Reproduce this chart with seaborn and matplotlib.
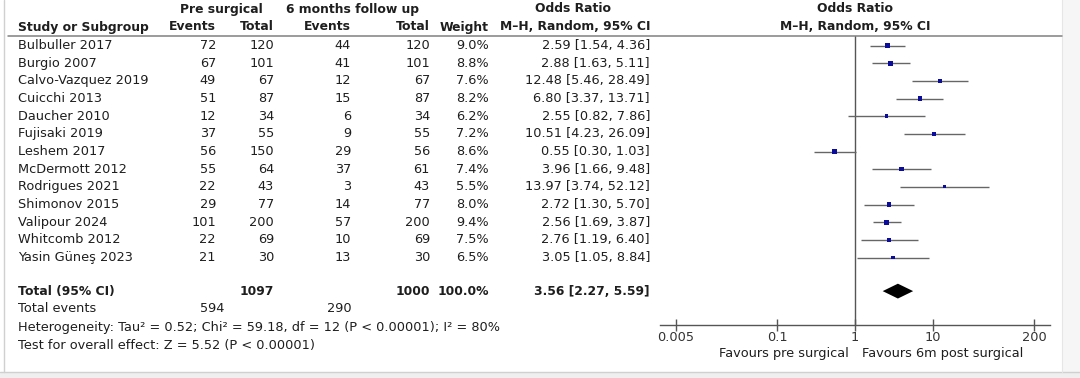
import numpy as np
import pandas as pd
import matplotlib
matplotlib.use("Agg")
import matplotlib.pyplot as plt
from matplotlib.lines import Line2D
from matplotlib.patches import Rectangle
import seaborn as sns

# ---------------- data ----------------
studies = ["Bulbuller 2017", "Burgio 2007", "Calvo-Vazquez 2019", "Cuicchi 2013",
           "Daucher 2010", "Fujisaki 2019", "Leshem 2017", "McDermott 2012",
           "Rodrigues 2021", "Shimonov 2015", "Valipour 2024", "Whitcomb 2012",
           "Yasin Güneş 2023"]
pre_events = [72, 67, 49, 51, 12, 37, 56, 55, 22, 29, 101, 22, 21]
pre_total = [120, 101, 67, 87, 34, 55, 150, 64, 43, 77, 200, 69, 30]
fu_events = [44, 41, 12, 15, 6, 9, 29, 37, 3, 14, 57, 10, 13]
fu_total = [120, 101, 67, 87, 34, 55, 56, 61, 43, 77, 200, 69, 30]
weights = [9.0, 8.8, 7.6, 8.2, 6.2, 7.2, 8.6, 7.4, 5.5, 8.0, 9.4, 7.5, 6.5]
odds = [2.59, 2.88, 12.48, 6.80, 2.55, 10.51, 0.55, 3.96, 13.97, 2.72, 2.56, 2.76, 3.05]
ci_low = [1.54, 1.63, 5.46, 3.37, 0.82, 4.23, 0.30, 1.66, 3.74, 1.30, 1.69, 1.19, 1.05]
ci_high = [4.36, 5.11, 28.49, 13.71, 7.86, 26.09, 1.03, 9.48, 52.12, 5.70, 3.87, 6.40, 8.84]

total_pre_n, total_fu_n = 1097, 1000
total_weight = 100.0
total_pre_events, total_fu_events = 594, 290
pooled_or, pooled_lo, pooled_hi = 3.56, 2.27, 5.59
tick_values = [0.005, 0.1, 1, 10, 200]
tick_labels = ["0.005", "0.1", "1", "10", "200"]

# ---------------- figure ----------------
sns.set_style("white")
plt.rcParams["font.family"] = ["DejaVu Sans"]
W, H = 1080, 378
fig = plt.figure(figsize=(W / 100, H / 100), dpi=100)
fig.patch.set_facecolor("white")

def fx(px):
    return px / W

def fy(py):
    return 1 - py / H

TXT = "#1e1e1e"
FS = 9.3
FSH = 8.9

def put(x, y, s, ha="left", bold=False, size=None, **kw):
    fig.text(fx(x), fy(y), s, ha=ha, va="center", fontsize=size or FS, color=TXT,
             fontweight="bold" if bold else "normal", **kw)

# frame decorations
fig.add_artist(Rectangle((fx(1062), 0), 1 - fx(1062), 1, transform=fig.transFigure,
                         facecolor="#f6f6f6", edgecolor="none", zorder=0))
fig.add_artist(Rectangle((0, 0), 1, fy(372), transform=fig.transFigure,
                         facecolor="#efefef", edgecolor="none", zorder=0))
fig.add_artist(Line2D([fx(0), fx(1080)], [fy(372), fy(372)], transform=fig.transFigure,
                      color="#d0d0d0", lw=1.0))
fig.add_artist(Line2D([fx(4), fx(4)], [fy(0), fy(372)], transform=fig.transFigure,
                      color="#d0d0d0", lw=1.0))
fig.add_artist(Line2D([fx(1062), fx(1062)], [fy(0), fy(372)], transform=fig.transFigure,
                      color="#e6e6e6", lw=0.8))

# header line
fig.add_artist(Line2D([fx(8), fx(1062)], [fy(36), fy(36)], transform=fig.transFigure,
                      color="#808080", lw=1.1))

# header text
put(221, 9, "Pre surgical", ha="center", bold=True, size=FSH)
put(353, 9, "6 months follow up", ha="center", bold=True, size=FSH)
put(573, 9, "Odds Ratio", ha="center", bold=True, size=FSH)
put(855, 9, "Odds Ratio", ha="center", bold=True, size=FSH)
put(18, 27, "Study or Subgroup", bold=True, size=FSH)
put(216, 27, "Events", ha="right", bold=True, size=FSH)
put(274, 27, "Total", ha="right", bold=True, size=FSH)
put(351, 27, "Events", ha="right", bold=True, size=FSH)
put(430, 27, "Total", ha="right", bold=True, size=FSH)
put(489, 27, "Weight", ha="right", bold=True, size=FSH)
put(650, 27, "M\u2013H, Random, 95% CI", ha="right", bold=True, size=FSH)
put(855, 27, "M\u2013H, Random, 95% CI", ha="center", bold=True, size=FSH)

# row geometry
ROW0, STEP = 45.5, 17.67
TOTAL_ROW = 13.9

def row_y(i):
    return ROW0 + STEP * i

for i, name in enumerate(studies):
    y = row_y(i)
    put(18, y, name)
    put(216, y, f"{pre_events[i]}", ha="right")
    put(274, y, f"{pre_total[i]}", ha="right")
    put(351, y, f"{fu_events[i]}", ha="right")
    put(430, y, f"{fu_total[i]}", ha="right")
    put(489, y, f"{weights[i]:.1f}%", ha="right")
    put(650, y, f"{odds[i]:.2f} [{ci_low[i]:.2f}, {ci_high[i]:.2f}]", ha="right")

yt = row_y(TOTAL_ROW)
put(18, yt, "Total (95% CI)", bold=True, size=FSH)
put(274, yt, f"{total_pre_n}", ha="right", bold=True, size=FSH)
put(430, yt, f"{total_fu_n}", ha="right", bold=True, size=FSH)
put(489, yt, f"{total_weight:.1f}%", ha="right", bold=True, size=FSH)
put(650, yt, f"{pooled_or:.2f} [{pooled_lo:.2f}, {pooled_hi:.2f}]", ha="right", bold=True, size=FSH)

put(18, 309, "Total events")
put(224, 309, f"{total_pre_events}", ha="right")
put(352, 309, f"{total_fu_events}", ha="right")
put(18, 327, "Heterogeneity: Tau\u00b2 = 0.52; Chi\u00b2 = 59.18, df = 12 (P < 0.00001); I\u00b2 = 80%")
put(18, 345, "Test for overall effect: Z = 5.52 (P < 0.00001)")

# ---------------- forest axes ----------------
AX_L, AX_R = 660, 1050
AX_T, AX_B = 36, 325
ax = fig.add_axes([fx(AX_L), fy(AX_B), fx(AX_R) - fx(AX_L), (AX_B - AX_T) / H])
ax.set_facecolor("none")
ax.set_xscale("log")
dec = (AX_R - AX_L) / 2 / ((1034 - 855) / np.log10(200))
ax.set_xlim(10 ** (-dec), 10 ** dec)
ylo = (AX_T - ROW0) / STEP
yhi = (AX_B - ROW0) / STEP
ax.set_ylim(yhi, ylo)

df = pd.DataFrame({"study": studies, "row": np.arange(len(studies)), "or": odds,
                   "lo": ci_low, "hi": ci_high, "weight": weights})

ax.hlines(df["row"], df["lo"], df["hi"], color="#666666", lw=1.0, zorder=2)
sns.scatterplot(data=df, x="or", y="row", size="weight", sizes=(5, 13),
                marker="s", color="#0c0c9a", linewidth=0, legend=False, ax=ax, zorder=3)

# pooled diamond
hh = 0.42
ax.fill([pooled_lo, pooled_or, pooled_hi, pooled_or],
        [TOTAL_ROW, TOTAL_ROW - hh, TOTAL_ROW, TOTAL_ROW + hh],
        color="black", lw=0, zorder=3)

ax.axvline(1, color="#555555", lw=1.0, zorder=1)

for s in ["top", "right", "left"]:
    ax.spines[s].set_visible(False)
ax.spines["bottom"].set_color("#555555")
ax.spines["bottom"].set_linewidth(1.0)
ax.set_yticks([])
ax.set_xticks(tick_values)
ax.set_xticklabels(tick_labels)
ax.xaxis.set_minor_locator(matplotlib.ticker.NullLocator())
ax.tick_params(axis="x", which="major", bottom=True, direction="inout", length=8,
               width=1.0, color="#555555", labelsize=FS, labelcolor="#333333", pad=0.5)
ax.set_xlabel("")
ax.set_ylabel("")

put(849, 354, "Favours pre surgical", ha="right")
put(862, 354, "Favours 6m post surgical", ha="left")

fig.savefig("out.png", dpi=100, facecolor="white")
